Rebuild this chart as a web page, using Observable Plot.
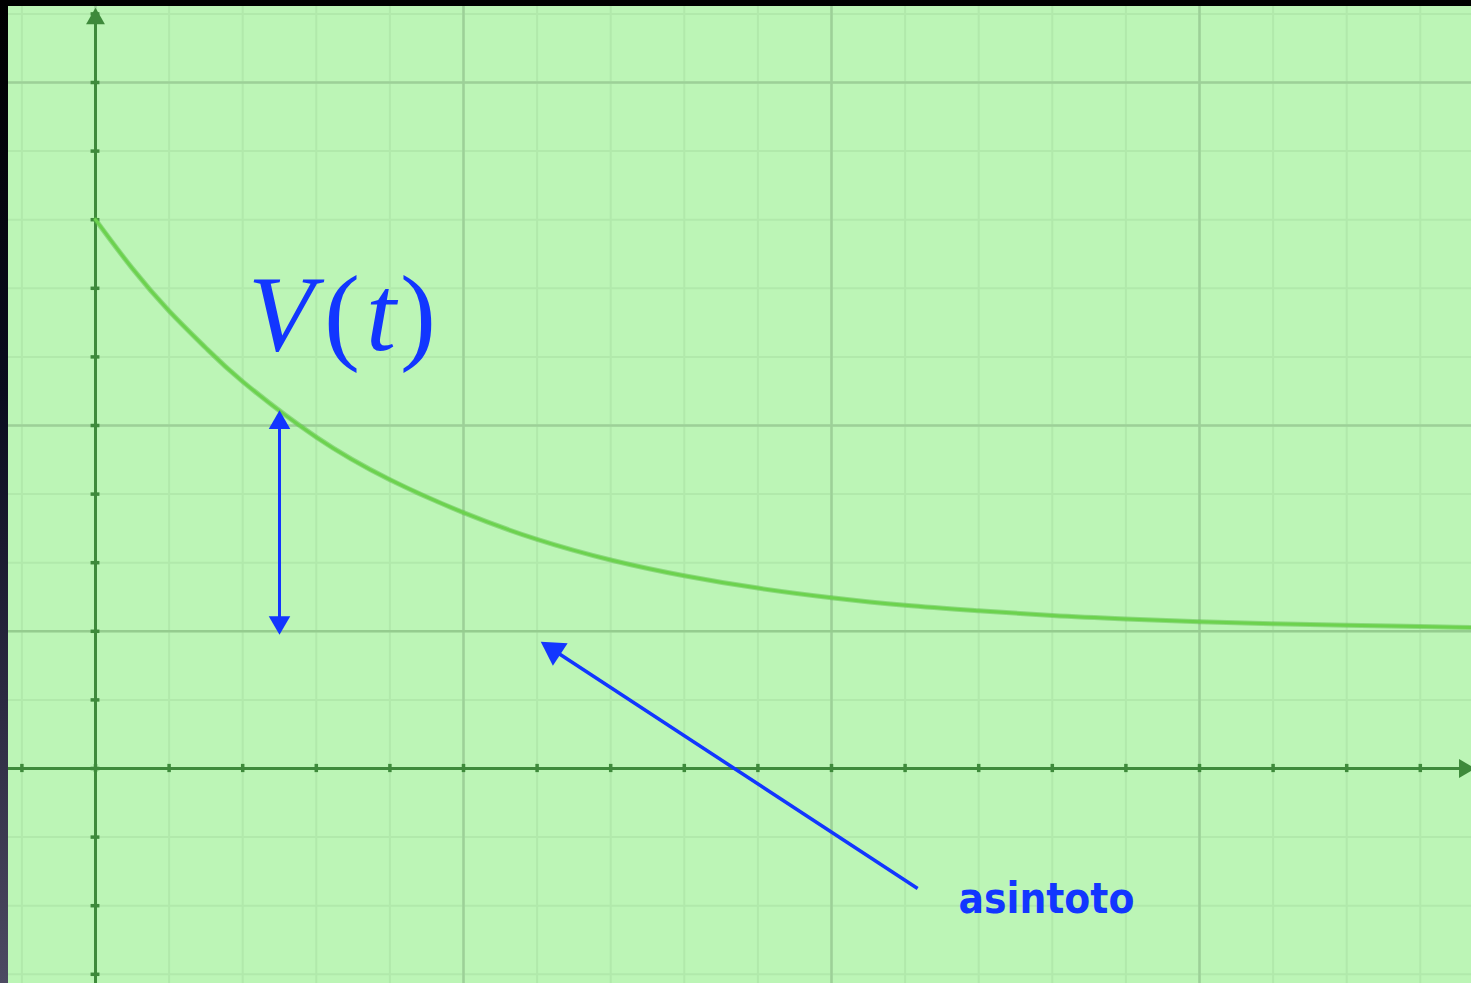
<!DOCTYPE html>
<html>
<head>
<meta charset="utf-8">
<script src="https://cdn.jsdelivr.net/npm/d3@7"></script>
<script src="https://cdn.jsdelivr.net/npm/@observablehq/plot@0.6"></script>
<style>
  html, body { margin: 0; padding: 0; }
  body {
    width: 1471px; height: 983px; overflow: hidden; position: relative;
    background: linear-gradient(to bottom, #000000 0%, #0a0c1e 40%, #2a2840 70%, #4d4a62 100%);
  }
  #chart { position: absolute; left: 8px; top: 6px; }
  #chart svg { display: block; }
</style>
</head>
<body>
<div id="chart"></div>
<script>
// Time (t) and value V(t)
const tValues = [0, 0.5, 1, 1.5, 2, 3, 4, 5, 6, 7, 8, 9, 10, 11, 12, 13, 14, 15, 16, 17, 18, 19];
const vValues = [8.0, 7.29, 6.67, 6.13, 5.64, 4.83, 4.21, 3.73, 3.34, 3.04, 2.81, 2.63, 2.49, 2.38, 2.30, 2.23, 2.18, 2.14, 2.11, 2.09, 2.07, 2.05];
const asymptote = 2;
// grid
const xMinor = d3.range(-1, 19);
const xMajor = [0, 5, 10, 15];
const yMinor = d3.range(-3, 12);
const yMajor = [0, 5, 10];
// annotation positions
const vArrowT = 2.5, vArrowTop = 5.17;
const asinArrow = {x1: 11.17, y1: -1.75, x2: 6.09, y2: 1.82};
const labelV = {x: 2.08, y: 6.09};
const labelA = {x: 12.92, y: -2.11, text: "asintoto"};

const curve = tValues.map((t, i) => ({t, v: vValues[i]}));
const W = 1463, H = 977;
const xDomain = [-87 / 73.6, 1376 / 73.6];
const yDomain = [-215 / 68.6, 762 / 68.6];
const kx = W / (xDomain[1] - xDomain[0]);
const ky = H / (yDomain[1] - yDomain[0]);

const minorCol = "#b1e9ab", majorCol = "#9dd098", axisCol = "#3e8a3b", blue = "#1236ff";

// direction of the asymptote arrow, in screen degrees (clockwise from up)
const dxPx = (asinArrow.x2 - asinArrow.x1) * kx;
const dyPx = -(asinArrow.y2 - asinArrow.y1) * ky;
const angle = Math.atan2(dxPx, -dyPx) * 180 / Math.PI;
const headLen = 20;
const ux = dxPx / Math.hypot(dxPx, dyPx), uy = dyPx / Math.hypot(dxPx, dyPx);
const lineEnd = {x: asinArrow.x2 - ux * headLen * 0.6 / kx, y: asinArrow.y2 + uy * headLen * 0.6 / ky};
const headCenter = {x: asinArrow.x2 - ux * 12 / kx, y: asinArrow.y2 + uy * 12 / ky};

const plot = Plot.plot({
  width: W, height: H,
  margin: 0,
  style: {background: "#bcf5b6"},
  x: {domain: xDomain, range: [0, W], axis: null},
  y: {domain: yDomain, range: [H, 0], axis: null},
  marks: [
    Plot.ruleX(xMinor, {stroke: minorCol, strokeWidth: 2}),
    Plot.ruleY(yMinor, {stroke: minorCol, strokeWidth: 2}),
    Plot.ruleX(xMajor, {stroke: majorCol, strokeWidth: 2.5}),
    Plot.ruleY(yMajor, {stroke: majorCol, strokeWidth: 2.5}),
    Plot.ruleY([asymptote], {stroke: "#95cc8f", strokeWidth: 2.5}),
    // axes
    Plot.ruleX([0], {y1: yDomain[0], y2: 10.95, stroke: axisCol, strokeWidth: 3}),
    Plot.ruleY([0], {x1: xDomain[0], x2: 18.55, stroke: axisCol, strokeWidth: 3}),
    Plot.ruleX(xMinor, {y1: -0.06, y2: 0.06, stroke: axisCol, strokeWidth: 3.5}),
    Plot.ruleY(yMinor, {x1: -0.06, x2: 0.06, stroke: axisCol, strokeWidth: 3.5}),
    Plot.dot([{x: 0, y: 10.93}], {x: "x", y: "y", symbol: "triangle", r: 7, fill: axisCol, stroke: null}),
    Plot.dot([{x: 18.6, y: 0}], {x: "x", y: "y", symbol: "triangle", r: 7, rotate: 90, fill: axisCol, stroke: null}),
    // curve
    Plot.line(curve, {x: "t", y: "v", curve: "natural", stroke: "#5cbf45", strokeWidth: 5, strokeOpacity: 0.5}),
    Plot.line(curve, {x: "t", y: "v", curve: "natural", stroke: "#6cd24e", strokeWidth: 3}),
    // double arrow
    Plot.ruleX([vArrowT], {y1: asymptote + 0.15, y2: vArrowTop - 0.15, stroke: blue, strokeWidth: 3}),
    Plot.dot([{x: vArrowT, y: vArrowTop - 0.13}], {x: "x", y: "y", symbol: "triangle", r: 8, fill: blue, stroke: null}),
    Plot.dot([{x: vArrowT, y: asymptote + 0.13}], {x: "x", y: "y", symbol: "triangle", r: 8, rotate: 180, fill: blue, stroke: null}),
    // asymptote arrow
    Plot.link([{x1: asinArrow.x1, y1: asinArrow.y1, x2: lineEnd.x, y2: lineEnd.y}], {x1: "x1", y1: "y1", x2: "x2", y2: "y2", stroke: blue, strokeWidth: 3.5}),
    Plot.dot([headCenter], {x: "x", y: "y", symbol: "triangle", r: 10, rotate: angle, fill: blue, stroke: null}),
    Plot.text([labelA], {x: "x", y: "y", text: "text", fill: blue, fontSize: 42, fontWeight: "bold", fontFamily: "'DejaVu Sans Condensed', 'Liberation Sans Narrow', sans-serif", letterSpacing: "-1.5px", textAnchor: "middle", lineAnchor: "bottom"})
  ]
});
document.getElementById("chart").appendChild(plot);

// V(t) label with mixed italic/upright glyphs, positioned through the plot scales
const sx = plot.scale("x"), sy = plot.scale("y");
const svg = d3.select(plot);
const txt = svg.append("text")
  .attr("x", sx.apply(labelV.x))
  .attr("y", sy.apply(labelV.y))
  .attr("text-anchor", "start")
  .attr("fill", blue)
  .attr("font-family", "'Liberation Serif', 'DejaVu Serif', serif")
  .attr("font-size", 108);
txt.append("tspan").attr("font-style", "italic").text("V");
txt.append("tspan").attr("dx", 10).text("(");
txt.append("tspan").attr("dx", 6).attr("font-style", "italic").text("t");
txt.append("tspan").attr("dx", 4).text(")");
</script>
</body>
</html>
